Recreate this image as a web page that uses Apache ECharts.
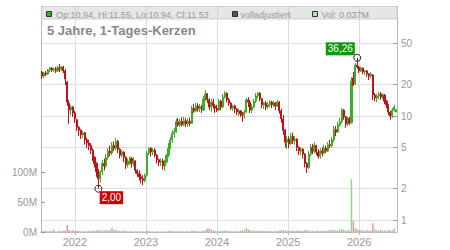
<!DOCTYPE html>
<html><head><meta charset="utf-8">
<script src="https://cdn.jsdelivr.net/npm/echarts@6/dist/echarts.min.js"></script>
<style>html,body{margin:0;padding:0;background:#fff}#c{width:450px;height:250px}</style>
</head><body><div id="c"></div>
<script>
// ---- data ----
const titleText = '5 Jahre, 1-Tages-Kerzen';
const adjLabel = 'volladjustiert';
const startDate = [2021, 6, 16];   // first sampled candle
const stepDays = 10;               // spacing of sampled candles
// [open, close, low, high]
const ohlc = [
[26.5,24.2,22.7,27.1],[24.2,25.9,23.2,26.5],[25.9,25.3,24.2,27.1],[25.3,27.7,24.8,28.3],[27.7,28.9,26.5,29.6],
[28.9,27.7,26.5,29.6],[27.7,28.3,26.5,29.0],[28.3,27.1,25.9,29.6],[27.1,29.0,26.5,30.3],[29.0,28.3,26.5,31.6],
[28.3,29.6,27.1,30.3],[29.6,27.1,25.9,30.3],[27.1,22.7,19.9,28.3],[21.2,13.6,12.5,21.7],[13.3,11.4,8.4,14.3],
[11.4,12.2,10.2,12.8],[12.2,10.7,9.8,12.5],[10.7,9.4,8.6,11.2],[9.2,7.8,7.2,9.4],[7.8,7.3,6.4,8.0],
[7.3,6.6,6.0,7.5],[6.6,6.9,6.2,7.2],[6.9,5.9,5.3,7.0],[5.9,5.5,4.9,6.2],[5.5,5.2,4.7,5.9],
[5.2,4.7,4.3,5.5],[4.7,4.0,3.7,4.9],[4.0,3.5,3.2,4.1],[3.5,2.9,2.6,3.6],[2.9,2.5,2.0,3.1],
[2.5,2.9,2.3,3.0],[2.9,3.5,2.7,3.8],[3.5,3.3,3.0,3.9],[3.3,4.0,3.2,4.3],[4.0,4.6,3.8,4.9],
[4.6,4.4,4.1,5.2],[4.4,5.2,4.2,5.6],[5.2,4.9,4.6,5.7],[4.9,5.7,4.7,6.15],[5.7,4.8,4.4,5.9],
[4.8,4.2,3.9,4.9],[4.2,4.5,4.0,4.7],[4.5,4.0,3.6,4.6],[4.0,3.4,3.1,4.1],[3.4,3.7,3.2,3.9],
[3.7,3.9,3.4,4.1],[3.9,3.5,3.2,4.05],[3.5,3.7,3.3,4.0],[3.7,3.0,2.8,3.75],[3.0,2.8,2.6,3.1],
[2.8,2.6,2.4,3.0],[2.6,2.5,2.25,2.8],[2.5,2.4,2.17,2.7],[2.4,2.7,2.3,2.8],[2.7,4.4,2.6,4.6],
[4.4,4.9,4.2,5.0],[4.9,4.5,4.1,5.0],[4.5,4.7,4.2,4.9],[4.7,4.2,4.0,4.9],[4.2,3.8,3.5,4.3],
[3.8,3.6,3.3,3.9],[3.6,3.7,3.3,3.9],[3.7,3.3,3.05,3.9],[3.3,3.6,3.0,3.8],[3.6,4.2,3.5,4.3],
[4.2,4.9,4.0,5.5],[4.9,5.9,4.8,6.3],[5.9,6.8,5.5,7.3],[6.8,7.0,6.2,7.7],[7.0,8.8,6.9,9.4],
[8.8,8.2,7.9,9.6],[8.2,8.9,7.8,9.4],[8.9,8.3,7.9,9.7],[8.3,9.0,8.0,9.8],[9.0,8.4,7.8,9.6],
[8.4,8.9,7.9,9.5],[8.9,8.5,8.0,9.7],[8.5,11.9,8.4,12.5],[11.9,11.2,10.7,13.0],[11.2,12.5,10.9,13.3],
[12.5,11.7,11.0,13.3],[11.7,12.2,10.9,13.0],[12.2,11.4,10.7,12.8],[11.4,14.6,11.2,15.6],[14.6,16.3,13.9,17.8],
[16.3,14.3,13.3,16.6],[14.3,12.2,11.4,14.9],[12.2,13.6,11.0,14.6],[13.6,12.5,11.7,14.6],[12.5,11.9,10.7,13.0],
[11.9,11.4,10.9,12.8],[11.4,13.9,11.2,14.6],[13.9,12.2,11.4,14.3],[12.2,15.2,11.9,16.3],[15.2,16.6,14.6,17.3],
[16.6,14.3,13.6,16.9],[14.3,13.3,12.5,14.9],[13.3,11.9,11.4,13.6],[11.9,12.5,11.2,12.8],[12.5,11.7,10.7,12.8],
[11.7,10.9,10.2,11.9],[10.9,11.2,10.0,11.7],[11.2,10.5,9.8,11.4],[10.5,10.2,8.8,10.9],[10.2,10.9,9.4,11.4],
[10.9,14.3,10.7,14.9],[14.3,13.6,12.2,15.2],[13.6,11.4,10.7,14.3],[11.4,12.2,10.7,13.0],[12.2,13.9,11.9,14.6],
[13.9,15.6,13.3,16.6],[15.6,16.6,14.9,17.0],[16.6,14.6,13.9,16.9],[14.6,12.8,11.9,14.9],[12.8,13.3,11.7,13.6],
[13.3,12.2,11.4,13.9],[12.2,12.8,11.7,13.6],[12.8,13.6,12.2,14.3],[13.6,12.8,11.9,14.0],[12.8,13.3,12.2,13.9],
[13.3,12.5,11.4,13.6],[12.5,13.6,12.2,14.3],[13.6,11.2,10.5,13.9],[11.2,9.4,8.6,11.7],[9.4,7.3,6.6,10.2],
[7.3,5.6,5.0,7.5],[5.6,6.0,4.8,6.4],[6.0,5.4,4.9,6.4],[5.4,6.4,5.3,6.9],[6.4,5.8,5.4,6.9],
[5.8,6.0,5.3,6.4],[6.0,5.0,4.6,6.1],[5.0,4.6,4.2,5.1],[4.6,4.8,4.2,5.0],[4.8,4.3,3.9,4.9],
[4.3,3.5,3.2,4.4],[3.5,3.2,2.83,3.6],[3.2,4.3,3.1,4.6],[4.3,5.0,4.1,5.4],[5.0,4.6,4.3,5.4],
[4.6,5.2,4.4,5.6],[5.2,4.5,4.2,5.3],[4.5,4.1,3.9,4.8],[4.1,4.6,3.9,4.9],[4.6,4.4,4.1,5.0],
[4.4,4.9,4.3,5.3],[4.9,4.6,4.4,5.2],[4.6,5.3,4.5,5.6],[5.3,5.2,4.9,5.9],[5.2,5.9,5.0,6.3],
[5.9,7.4,5.6,8.0],[7.4,7.0,6.4,8.0],[7.0,8.2,6.9,8.8],[8.2,8.8,7.9,9.6],[8.8,11.4,8.5,11.9],
[11.4,9.8,9.2,11.7],[9.8,8.4,7.7,10.0],[8.4,9.4,8.0,9.8],[9.4,8.6,8.2,9.8],[8.6,21.7,8.5,23.7],
[23.2,19.9,19.4,26.5],[20.3,30.9,19.9,32.3],[30.9,29.6,28.3,36.26],[29.6,27.1,25.9,30.3],[27.1,28.9,26.5,29.8],
[28.9,26.5,25.3,29.3],[26.5,27.1,24.8,27.7],[27.1,25.3,23.7,27.7],[25.3,24.2,22.2,25.9],[24.2,25.3,23.2,26.5],
[24.8,15.9,14.3,25.3],[15.9,14.9,13.9,16.6],[14.9,15.6,13.6,16.3],[15.6,16.3,14.6,17.0],[16.3,15.2,14.3,17.0],
[15.2,15.9,14.6,16.6],[15.9,13.9,13.0,16.3],[13.9,12.8,11.9,14.3],[12.8,10.9,10.2,13.0],[10.9,10.0,9.2,11.2],
[10.0,11.4,9.6,11.9],[11.4,12.2,11.0,12.8],[10.94,11.53,10.94,11.55]
];
// volume in millions
const volumes = [
1.5,1.2,2.0,1.0,1.8,1.3,4.5,1.1,1.6,2.5,
1.4,1.9,2.6,11.7,3.5,2.2,3.3,1.8,2.0,1.5,
1.2,1.6,1.0,1.4,1.8,1.1,2.3,1.5,2.8,3.0,
2.4,3.2,2.0,3.3,2.6,3.1,7.2,2.8,3.5,2.0,
1.6,1.2,2.4,1.5,1.1,2.2,1.3,0.9,1.2,1.0,
1.1,0.9,1.4,1.2,2.1,1.5,1.0,1.3,0.8,1.2,
0.9,1.1,1.0,0.8,1.4,1.8,2.2,1.6,1.3,1.5,
1.2,1.0,1.4,0.9,1.1,1.3,1.0,2.4,1.6,1.2,
1.0,1.3,1.1,2.5,3.0,5.5,6.0,4.0,2.2,1.5,
1.3,2.0,1.6,2.2,2.8,1.9,1.4,1.8,1.2,1.5,
1.3,1.1,1.7,2.4,3.5,7.0,4.5,2.6,2.0,2.3,
1.8,2.5,1.6,1.4,1.9,1.2,1.5,1.7,1.3,1.6,
1.4,1.8,2.2,3.0,2.8,2.5,2.2,2.0,2.4,2.1,
1.9,2.3,2.0,2.2,1.8,2.6,3.0,2.4,2.1,1.9,
2.2,1.7,2.0,1.8,2.1,1.6,1.9,2.5,2.8,3.2,
3.5,2.6,3.0,4.2,5.0,3.1,2.5,2.8,2.4,88,
18,6.5,4.5,3.2,3.8,2.5,2.2,3.0,2.0,2.6,
14.5,4.0,2.8,2.4,3.5,2.2,2.6,2.0,3.0,2.4,
2.8,6.0,0.037
];
const priceTicks = [1, 2, 5, 10, 20, 50];
const volumeTicks = [0, 50, 100];
const yearTicks = [2022, 2023, 2024, 2025, 2026];
const xRange = [[2021, 6, 11], [2026, 6, 14]];
const priceRange = [0.767, 114.2];
const volumeMax = 376.7;

// ---- build ----
const UP = '#3cad28', DOWN = '#c0101a';
const FONT = '"Liberation Sans", Arial, sans-serif';
const dates = ohlc.map((_, i) => new Date(startDate[0], startDate[1], startDate[2] + i * stepDays).getTime());
const candleData = ohlc.map((r, i) => [dates[i], r[0], r[1], r[2], r[3]]);
const volData = volumes.map((v, i) => ({
  value: [dates[i], v],
  itemStyle: { color: ohlc[i][1] >= ohlc[i][0] ? '#8fd885' : '#f0949f' }
}));
let maxIdx = 0, minIdx = 0;
ohlc.forEach((r, i) => { if (r[3] > ohlc[maxIdx][3]) maxIdx = i; if (r[2] < ohlc[minIdx][2]) minIdx = i; });
const last = ohlc[ohlc.length - 1];
const lastVol = volumes[volumes.length - 1];
const f2 = v => v.toFixed(2);
const ohlcText = `Op:${f2(last[0])}, Hi:${f2(last[3])}, Lo:${f2(last[2])}, Cl:${f2(last[1])}`;
const volText = `Vol: ${lastVol.toFixed(3)}M`;
const yearVals = yearTicks.map(y => new Date(y, 0, 1).getTime());
const deComma = v => v.toFixed(2).replace('.', ',');

const chart = echarts.init(document.getElementById('c'), null, { renderer: 'svg' });
chart.setOption({
  animation: false,
  textStyle: { fontFamily: FONT },
  grid: { left: 41, right: 53, top: 6, bottom: 18 },
  xAxis: {
    type: 'value', scale: true,
    min: new Date(...xRange[0]).getTime(),
    max: new Date(...xRange[1]).getTime(),
    axisLine: { lineStyle: { color: '#bbb' } },
    axisTick: { show: true, length: 3, customValues: yearVals, lineStyle: { color: '#bbb' } },
    axisLabel: { customValues: yearVals, formatter: v => String(new Date(v).getFullYear()),
                 color: '#999', fontSize: 11, margin: 4, fontFamily: FONT },
    splitLine: { show: true, lineStyle: { color: '#ddd' } }
  },
  yAxis: [
    {
      type: 'log', logBase: 10, position: 'right',
      min: priceRange[0], max: priceRange[1],
      axisLine: { show: true, lineStyle: { color: '#bbb' } },
      axisTick: { show: true, inside: true, length: 4, customValues: priceTicks, lineStyle: { color: '#999' } },
      axisLabel: { customValues: priceTicks, formatter: v => String(Math.round(v * 100) / 100),
                   color: '#999', fontSize: 10, margin: 4, fontFamily: FONT },
      splitLine: { show: true, lineStyle: { color: '#ddd' } }
    },
    {
      type: 'value', position: 'left', min: 0, max: volumeMax,
      axisLine: { show: true, lineStyle: { color: '#bbb' } },
      axisTick: { show: true, inside: true, length: 4, customValues: volumeTicks, lineStyle: { color: '#999' } },
      axisLabel: { customValues: volumeTicks, formatter: v => v + 'M',
                   color: '#999', fontSize: 10, margin: 4, fontFamily: FONT },
      splitLine: { show: false }
    }
  ],
  series: [
    {
      type: 'bar', yAxisIndex: 1, data: volData, barWidth: 1.5, z: 1
    },
    {
      type: 'candlestick', yAxisIndex: 0, data: candleData, barWidth: 1.6, z: 2,
      itemStyle: { color: UP, color0: DOWN, borderColor: UP, borderColor0: DOWN, borderWidth: 1 },
      markPoint: {
        symbol: 'circle', symbolSize: 7,
        itemStyle: { color: 'rgba(255,255,255,0)', borderColor: '#222', borderWidth: 1 },
        label: { show: true, position: 'inside', color: '#fff', fontSize: 10, fontFamily: FONT,
                 padding: [2, 2, 1, 2], formatter: p => deComma(p.value) },
        data: [
          { coord: [dates[maxIdx], ohlc[maxIdx][3]], value: ohlc[maxIdx][3],
            label: { backgroundColor: '#0f960f', offset: [-17, -9] } },
          { coord: [dates[minIdx], ohlc[minIdx][2]], value: ohlc[minIdx][2],
            label: { backgroundColor: '#cc0000', offset: [13, 9] } }
        ]
      }
    }
  ],
  graphic: [
    { type: 'rect', shape: { x: 41.5, y: 6.5, width: 355.5, height: 12.5 },
      style: { fill: 'rgba(200,200,200,0.45)', stroke: '#cfcfcf', lineWidth: 1 }, z: 10 },
    { type: 'rect', shape: { x: 46.5, y: 11.5, width: 5, height: 5 }, style: { fill: UP, stroke: '#333', lineWidth: 1 }, z: 11 },
    { type: 'text', x: 56, y: 14.5, style: { text: ohlcText, fill: '#999', fontSize: 9, fontFamily: FONT, verticalAlign: 'middle' }, z: 11 },
    { type: 'rect', shape: { x: 232.5, y: 11.5, width: 5, height: 5 }, style: { fill: '#555', stroke: '#333', lineWidth: 1 }, z: 11 },
    { type: 'text', x: 240.5, y: 14.5, style: { text: adjLabel, fill: '#999', fontSize: 9, fontFamily: FONT, verticalAlign: 'middle' }, z: 11 },
    { type: 'rect', shape: { x: 312.5, y: 11.5, width: 5, height: 5 }, style: { fill: '#b3e6ad', stroke: '#333', lineWidth: 1 }, z: 11 },
    { type: 'text', x: 321.5, y: 14.5, style: { text: volText, fill: '#999', fontSize: 9, fontFamily: FONT, verticalAlign: 'middle' }, z: 11 },
    { type: 'text', x: 47, y: 30, style: { text: titleText, fill: '#888', fontSize: 13, fontWeight: 'bold', fontFamily: FONT, verticalAlign: 'middle' }, z: 11 }
  ]
});
</script></body></html>
